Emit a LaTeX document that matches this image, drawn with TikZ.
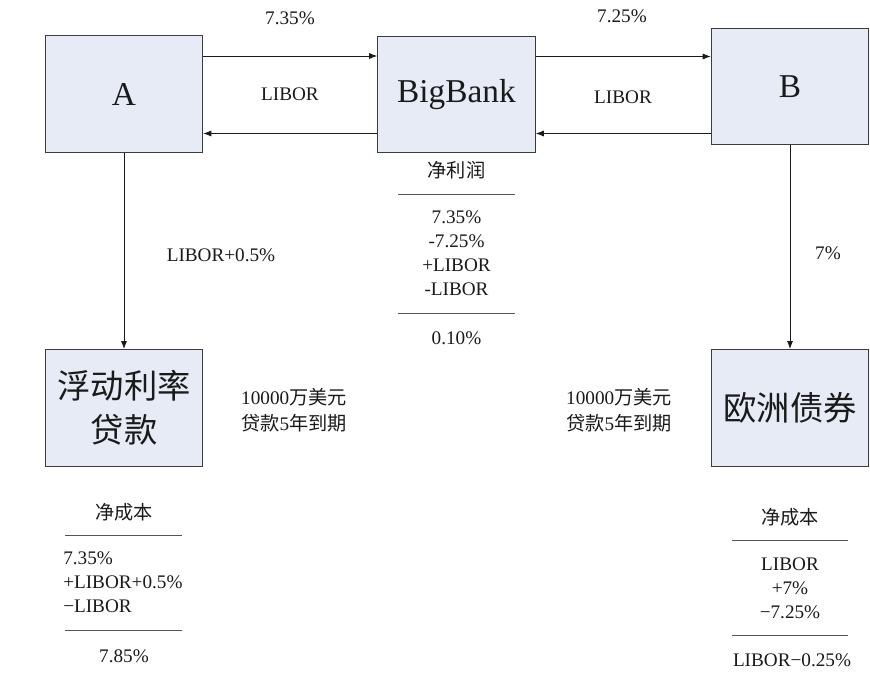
\documentclass[tikz,border=0pt]{standalone}
\usepackage{fontspec}
\setmainfont{Liberation Serif}
\newfontfamily\cjk{Noto Sans CJK SC}
\usetikzlibrary{arrows.meta,positioning}
\definecolor{boxfill}{HTML}{E6EBF5}
\definecolor{boxline}{HTML}{3C3C3C}
\definecolor{ink}{HTML}{1A1A1A}
\definecolor{rulegray}{HTML}{555555}
\newcommand{\zh}[1]{{\cjk #1}}

\tikzset{
  party/.style={draw=boxline, fill=boxfill, line width=0.9pt, minimum width=118pt,
    minimum height=87.5pt, inner sep=0pt, align=center, text=ink,
    font=\fontsize{25}{33}\selectfont},
  flow/.style={-{Latex[length=6pt,width=4.5pt]}, line width=0.6pt, draw=ink},
  rate/.style={inner sep=0pt, text=ink, font=\fontsize{14.4}{18}\selectfont, align=center},
  rule/.style={draw=rulegray, line width=0.6pt}
}

\begin{document}
\begin{tikzpicture}[x=0.75pt, y=-0.75pt]
\useasboundingbox (0,0) rectangle (870,674);
% the five parties
\node[party] (A) at (124,94) {A};
\node[party] (bank) at (456.5,94.5) {BigBank};
\node[party] (B) at (790,86.5) {B};
\node[party] (loan) at (124,408) {\zh{浮动利率}\\\zh{贷款}};
\node[party] (euro) at (790,408) {\zh{欧洲债券}};

% swap legs
\draw[flow] ([yshift=28.5pt]A.east) -- ([yshift=28.5pt]A.east -| bank.west);
\draw[flow] ([yshift=-29.25pt]bank.west) -- ([yshift=-29.25pt]bank.west -| A.east);
\draw[flow] ([yshift=28.5pt]bank.east) -- ([yshift=28.5pt]bank.east -| B.west);
\draw[flow] ([yshift=-29.25pt]bank.east -| B.west) -- ([yshift=-29.25pt]bank.east);
\draw[flow] (A) -- (loan);
\draw[flow] (B) -- (euro);

% rates on the legs
\node[rate] (r1) at (290,18) {7.35\%};
\node[rate] (r2) at (290,94) {LIBOR};
\node[rate] (r3) at (622,16) {7.25\%};
\node[rate] (r4) at (623,97) {LIBOR};
\node[rate] (r5) at (221,255) {LIBOR+0.5\%};
\node[rate] (r6) at (828,253) {7\%};
\node[rate, font=\fontsize{14.4}{19.5}\selectfont] (amtL) at (294,410) {10000\zh{万美元}\\\zh{贷款}5\zh{年到期}};
\node[rate, font=\fontsize{14.4}{19.5}\selectfont] (amtR) at (619,410) {10000\zh{万美元}\\\zh{贷款}5\zh{年到期}};

% BigBank net profit
\node[rate] (profit) at (456.5,170) {\zh{净利润}};
\draw[rule] (398,194) -- (515,194);
\node[rate] (profitsum) at (456.5,253) {7.35\%\\-7.25\%\\+LIBOR\\-LIBOR};
\draw[rule] (398,313) -- (515,313);
\node[rate] (profitnet) at (456.5,338) {0.10\%};

% A net cost
\node[rate] (costA) at (124,512) {\zh{净成本}};
\draw[rule] (65,535) -- (182,535);
\node[rate, align=left, anchor=west] (costAsum) at (63,582) {7.35\%\\+LIBOR+0.5\%\\−LIBOR};
\draw[rule] (65,630) -- (182,630);
\node[rate] (costAnet) at (124,656) {7.85\%};

% B net cost
\node[rate] (costB) at (790,517) {\zh{净成本}};
\draw[rule] (732,540) -- (848,540);
\node[rate] (costBsum) at (790,588) {LIBOR\\+7\%\\−7.25\%};
\draw[rule] (732,635) -- (848,635);
\node[rate] (costBnet) at (792,660) {LIBOR−0.25\%};
\end{tikzpicture}
\end{document}
